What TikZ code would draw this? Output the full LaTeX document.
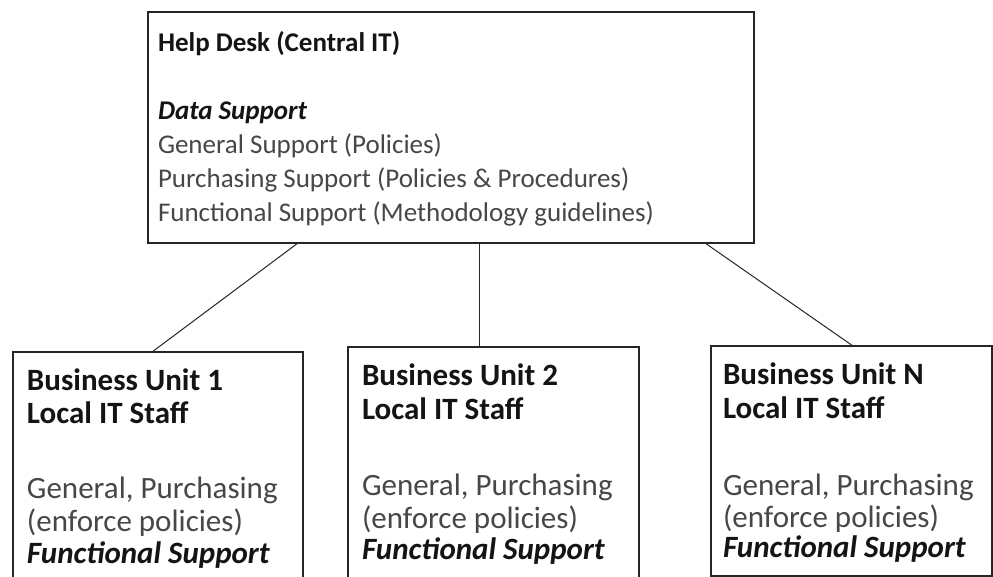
\documentclass[tikz,border=0pt]{standalone}
\usepackage{fontspec}
\setmainfont{Carlito}
\begin{document}
\begin{tikzpicture}[x=1pt,y=-1pt,
  frame/.style={draw=black!85, line width=1.2pt, inner sep=0pt, outer sep=0pt, anchor=north west},
  link/.style={draw=black!85, line width=1pt},
  line/.style={anchor=base west, inner sep=0pt, outer sep=0pt, text=black!92},
  toptxt/.style={line, font=\fontsize{27}{33}\selectfont},
  unittxt/.style={line, font=\fontsize{31}{35}\selectfont},
  plain/.style={text=black!72}]
\clip (0,0) rectangle (993,577);
\fill[white] (0,0) rectangle (993,577);

% boxes
\node[frame, minimum width=606pt, minimum height=231pt] (hd) at (148,12) {};
\node[frame, minimum width=290pt, minimum height=250pt] (bu1) at (13,352) {};
\node[frame, minimum width=291pt, minimum height=250pt] (bu2) at (348,347) {};
\node[frame, minimum width=281pt, minimum height=230pt] (bun) at (711,346) {};

% connectors
\draw[link] ([xshift=150pt]hd.south west) -- ([xshift=139pt]bu1.north west);
\draw[link] ([xshift=331pt]hd.south west) -- ([xshift=131pt]bu2.north west);
\draw[link] ([xshift=557pt]hd.south west) -- ([xshift=142pt]bun.north west);

% central help desk
\node[toptxt] (hd1) at (158,52) {\textbf{Help Desk (Central IT)}};
\node[toptxt] (hd2) at (158,120) {\textbf{\textit{Data Support}}};
\node[toptxt, plain] (hd3) at (158,154) {General Support (Policies)};
\node[toptxt, plain] (hd4) at (158,188) {Purchasing Support (Policies \& Procedures)};
\node[toptxt, plain] (hd5) at (158,222) {Functional Support (Methodology guidelines)};

% business unit 1
\node[unittxt] (a1) at (27,390) {\textbf{Business Unit 1}};
\node[unittxt] (a2) at (27,423) {\textbf{Local IT Staff}};
\node[unittxt, plain] (a3) at (27,498) {General, Purchasing};
\node[unittxt, plain] (a4) at (27,531) {(enforce policies)};
\node[unittxt] (a5) at (27,563) {\textbf{\textit{Functional Support}}};

% business unit 2
\node[unittxt] (b1) at (362,385) {\textbf{Business Unit 2}};
\node[unittxt] (b2) at (362,419) {\textbf{Local IT Staff}};
\node[unittxt, plain] (b3) at (362,495) {General, Purchasing};
\node[unittxt, plain] (b4) at (362,528) {(enforce policies)};
\node[unittxt] (b5) at (362,559) {\textbf{\textit{Functional Support}}};

% business unit N
\node[unittxt] (c1) at (723,384) {\textbf{Business Unit N}};
\node[unittxt] (c2) at (723,418) {\textbf{Local IT Staff}};
\node[unittxt, plain] (c3) at (723,495) {General, Purchasing};
\node[unittxt, plain] (c4) at (723,527) {(enforce policies)};
\node[unittxt] (c5) at (723,557) {\textbf{\textit{Functional Support}}};
\end{tikzpicture}
\end{document}
